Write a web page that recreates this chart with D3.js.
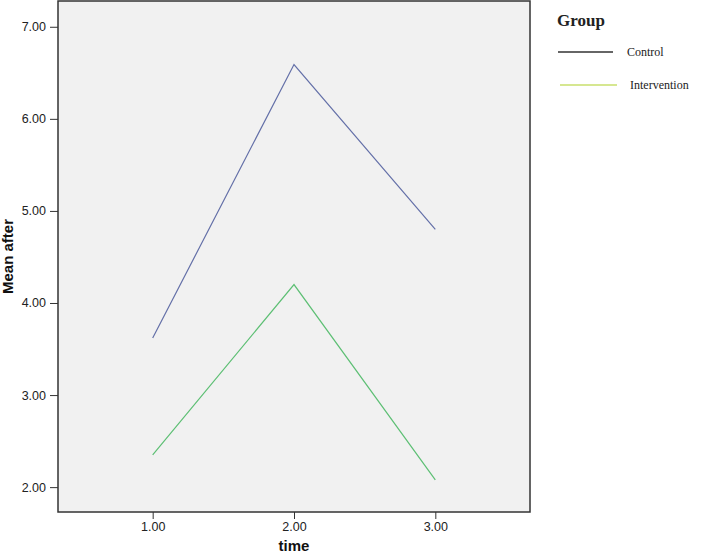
<!DOCTYPE html>
<html>
  <head>
    <meta charset="utf-8">
    <title>Mean after by time</title>
    <script src="https://cdn.jsdelivr.net/npm/d3@7"></script>
    <style>
      body { margin: 0; background: #fff; }
      .tick text { font-family: "Liberation Sans", Arial, sans-serif; font-size: 12.5px; fill: #222; }
      .tick line, .domain { stroke: #333; }
      .axis-title { font-family: "Liberation Sans", Arial, sans-serif; font-weight: bold; font-size: 15px; fill: #111; }
      .legend text { font-family: "Liberation Serif", "Times New Roman", serif; fill: #222; }
      .line { fill: none; stroke-width: 1.2px; }
    </style>
  </head>
  <body>
    <div id="chart"></div>
    <script>
      // data
      var times = [1, 2, 3];
      var xTicks = [1, 2, 3];
      var yTicks = [2, 3, 4, 5, 6, 7];
      var groups = ['Control', 'Intervention'];
      var controlMeans = [3.62, 6.59, 4.80];
      var interventionMeans = [2.35, 4.20, 2.08];

      var lineColors = ['#6470a8', '#5dbf74'];
      var legendColors = ['#333333', '#c9df6d'];

      var width = 702, height = 553;
      var margin = {top: 1, right: 172, bottom: 41, left: 58};
      var w = width - margin.left - margin.right,
          h = height - margin.top - margin.bottom;

      var svg = d3.select('#chart').append('svg')
        .attr('width', width)
        .attr('height', height);

      var g = svg.append('g')
        .attr('transform', 'translate(' + margin.left + ',' + margin.top + ')');

      var x = d3.scaleLinear().domain([0.33, 3.67]).range([0, w]);
      var y = d3.scaleLinear().domain([1.73, 7.28]).range([h, 0]);

      // plot background
      g.append('rect')
        .attr('width', w)
        .attr('height', h)
        .attr('fill', '#f1f1f1');

      var series = [controlMeans, interventionMeans];
      var line = d3.line()
        .x(function(d, i) { return x(times[i]); })
        .y(function(d) { return y(d); });

      g.selectAll('.line')
        .data(series)
        .enter()
        .append('path')
        .attr('class', 'line')
        .attr('stroke', function(d, i) { return lineColors[i]; })
        .attr('d', line);

      // frame
      g.append('rect')
        .attr('width', w)
        .attr('height', h)
        .attr('fill', 'none')
        .attr('stroke', '#333')
        .attr('stroke-width', 1.5);

      g.append('g')
        .attr('transform', 'translate(0,' + h + ')')
        .call(d3.axisBottom(x).tickValues(xTicks).tickSize(7).tickPadding(3).tickFormat(d3.format('.2f')))
        .call(function(a) { a.select('.domain').remove(); });

      g.append('g')
        .call(d3.axisLeft(y).tickValues(yTicks).tickSize(8).tickPadding(4).tickFormat(d3.format('.2f')))
        .call(function(a) { a.select('.domain').remove(); });

      svg.append('text')
        .attr('class', 'axis-title')
        .attr('x', margin.left + x(2))
        .attr('y', 551)
        .attr('text-anchor', 'middle')
        .text('time');

      svg.append('text')
        .attr('class', 'axis-title')
        .attr('transform', 'translate(13,' + (margin.top + h / 2) + ') rotate(-90)')
        .attr('text-anchor', 'middle')
        .text('Mean after');

      // legend
      var legend = svg.append('g').attr('class', 'legend');
      legend.append('text')
        .attr('x', 557)
        .attr('y', 26)
        .attr('font-weight', 'bold')
        .attr('font-size', 17)
        .text('Group');

      var items = legend.selectAll('.item')
        .data(groups)
        .enter()
        .append('g')
        .attr('class', 'item')
        .attr('transform', function(d, i) { return 'translate(0,' + (52 + i * 33) + ')'; });
      items.append('line')
        .attr('x1', function(d, i) { return 558 + i * 2; })
        .attr('x2', function(d, i) { return 613 + i * 4; })
        .attr('stroke', function(d, i) { return legendColors[i]; })
        .attr('stroke-width', 1.3);
      items.append('text')
        .attr('x', function(d, i) { return 627 + i * 3; })
        .attr('y', 4)
        .attr('font-size', 12)
        .text(function(d) { return d; });
    </script>
  </body>
</html>
